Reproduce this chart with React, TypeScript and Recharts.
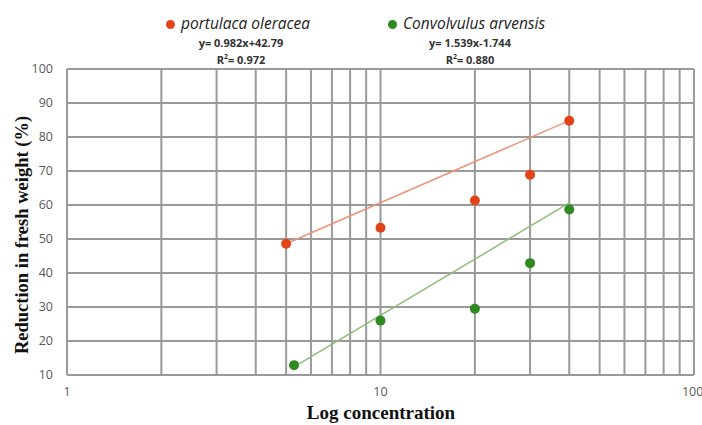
import React from "react";
import {
  CartesianGrid,
  ComposedChart,
  ReferenceLine,
  Scatter,
  XAxis,
  YAxis,
} from "recharts";

// concentrations and measured reduction (%)
const portulacaX = [5, 10, 20, 30, 40];
const portulacaY = [48.6, 53.3, 61.3, 68.9, 84.8];
const convolvulusX = [5.3, 10, 20, 30, 40];
const convolvulusY = [12.9, 26.0, 29.5, 42.9, 58.7];

// trend line end points
const portulacaTrendX = [5, 40];
const portulacaTrendY = [48.6, 84.8];
const convolvulusTrendX = [5.5, 40];
const convolvulusTrendY = [13.3, 60.6];

const xTicks = [1, 10, 100];
const yTicks = [10, 20, 30, 40, 50, 60, 70, 80, 90, 100];
const xGridLines = [2, 3, 4, 5, 6, 7, 8, 9, 10, 20, 30, 40, 50, 60, 70, 80, 90];

const zip = (xs: number[], ys: number[]) => xs.map((x, i) => ({ x, y: ys[i] }));

const ORANGE = "#E2441A";
const GREEN = "#2E8A1E";
const GRID = "#9a9a9a";
const TICK = "#595959";

const Dot = (props: any) => {
  const { cx, cy, fill } = props;
  if (cx == null || cy == null) return <g />;
  return <circle cx={cx} cy={cy} r={5} fill={fill} />;
};

const NoShape = () => <g />;

const legendStyle: React.CSSProperties = {
  position: "absolute",
  top: 12,
  fontFamily: "'Open Sans', sans-serif",
  fontSize: 15.5,
  fontStyle: "italic",
  color: "#222",
  whiteSpace: "nowrap",
};

const eqStyle: React.CSSProperties = {
  position: "absolute",
  width: 130,
  top: 36,
  textAlign: "center",
  fontFamily: "'Open Sans', sans-serif",
  fontSize: 11,
  fontWeight: 700,
  color: "#333",
  lineHeight: "14px",
};

const App: React.FC = () => {
  const tickStyle = { fontFamily: "'Open Sans', sans-serif", fontSize: 12.5, fill: TICK };
  return (
    <div style={{ position: "absolute", left: 0, top: 0, width: 702, height: 425, background: "#fff" }}>
      {/* legend */}
      <div style={{ ...legendStyle, left: 166 }}>
        <span style={{ display: "inline-block", width: 9, height: 9, borderRadius: 5, background: ORANGE, marginRight: 6 }} />
        portulaca oleracea
      </div>
      <div style={{ ...legendStyle, left: 388 }}>
        <span style={{ display: "inline-block", width: 9, height: 9, borderRadius: 5, background: GREEN, marginRight: 6 }} />
        Convolvulus arvensis
      </div>
      {/* equations */}
      <div style={{ ...eqStyle, left: 176 }}>
        y= 0.982x+42.79
        <br />
        R<sup style={{ fontSize: 7 }}>2</sup>= 0.972
      </div>
      <div style={{ ...eqStyle, left: 405 }}>
        y= 1.539x-1.744
        <br />
        R<sup style={{ fontSize: 7 }}>2</sup>= 0.880
      </div>
      {/* axis titles */}
      <div style={{ position: "absolute", left: 22, top: 235, transform: "translate(-50%, -50%) rotate(-90deg)", fontFamily: "'Liberation Serif', serif", fontWeight: 700, fontSize: 18.5, color: "#111", whiteSpace: "nowrap" }}>
        Reduction in fresh weight (%)
      </div>
      <div style={{ position: "absolute", left: 381, top: 413, transform: "translate(-50%, -50%)", fontFamily: "'Liberation Serif', serif", fontWeight: 700, fontSize: 19, color: "#111", whiteSpace: "nowrap" }}>
        Log concentration
      </div>

      <ComposedChart
        width={702}
        height={425}
        margin={{ top: 69, right: 8, bottom: 28, left: 10 }}
      >
        <CartesianGrid horizontal vertical={false} stroke={GRID} strokeWidth={2} />
        <XAxis
          type="number"
          dataKey="x"
          scale="log"
          domain={[1, 100]}
          ticks={xTicks}
          allowDataOverflow
          tickLine={false}
          axisLine={{ stroke: GRID, strokeWidth: 2 }}
          tick={tickStyle}
          tickMargin={6}
          height={22}
        />
        <YAxis
          type="number"
          dataKey="y"
          domain={[10, 100]}
          ticks={yTicks}
          tickLine={false}
          axisLine={{ stroke: GRID, strokeWidth: 2 }}
          tick={tickStyle}
          tickMargin={8}
          width={57}
        />
        {xGridLines.map((v) => (
          <ReferenceLine key={v} x={v} stroke={GRID} strokeWidth={2} />
        ))}
        <ReferenceLine x={100} stroke={GRID} strokeWidth={2} />
        <ReferenceLine y={100} stroke={GRID} strokeWidth={2} />
        <Scatter
          data={zip(portulacaTrendX, portulacaTrendY)}
          line={{ stroke: "#EC9478", strokeWidth: 1.5 }}
          shape={NoShape}
          isAnimationActive={false}
        />
        <Scatter
          data={zip(convolvulusTrendX, convolvulusTrendY)}
          line={{ stroke: "#8DBD7C", strokeWidth: 1.5 }}
          shape={NoShape}
          isAnimationActive={false}
        />
        <Scatter
          data={zip(portulacaX, portulacaY)}
          fill={ORANGE}
          shape={<Dot />}
          isAnimationActive={false}
        />
        <Scatter
          data={zip(convolvulusX, convolvulusY)}
          fill={GREEN}
          shape={<Dot />}
          isAnimationActive={false}
        />
      </ComposedChart>
    </div>
  );
};

export default App;
